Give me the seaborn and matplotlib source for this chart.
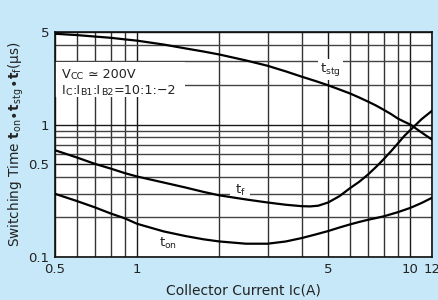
import matplotlib
matplotlib.use("Agg")
import matplotlib.pyplot as plt
from matplotlib.patches import Rectangle
import seaborn as sns
import pandas as pd

# ---- data ----
ic_stg = [0.5, 0.6, 0.7, 0.8, 0.9, 1.0, 1.25, 1.5, 1.75, 2.0, 2.5, 3.0, 3.5, 4.0, 4.5, 5.0,
          5.5, 6.0, 6.5, 7.0, 7.5, 8.0, 8.5, 9.0, 9.5, 10.0, 11.0, 12.0]
t_stg = [4.85, 4.74, 4.62, 4.52, 4.40, 4.30, 4.02, 3.76, 3.56, 3.38, 3.05, 2.78, 2.52, 2.30, 2.13, 1.98,
         1.84, 1.72, 1.60, 1.49, 1.39, 1.29, 1.20, 1.11, 1.05, 1.00, 0.87, 0.77]

ic_f = [0.5, 0.6, 0.7, 0.8, 0.9, 1.0, 1.25, 1.5, 1.75, 2.0, 2.5, 3.0, 3.5, 4.0, 4.3, 4.6, 5.0,
        5.5, 6.0, 6.5, 7.0, 7.5, 8.0, 8.5, 9.0, 9.5, 10.0, 11.0, 12.0]
t_f = [0.64, 0.565, 0.505, 0.465, 0.43, 0.405, 0.365, 0.335, 0.31, 0.292, 0.272, 0.258, 0.248, 0.242, 0.241, 0.244, 0.258,
       0.288, 0.33, 0.37, 0.42, 0.48, 0.55, 0.63, 0.72, 0.82, 0.91, 1.10, 1.27]

ic_on = [0.5, 0.6, 0.7, 0.8, 0.9, 1.0, 1.25, 1.5, 1.75, 2.0, 2.5, 3.0, 3.5, 4.0, 4.5, 5.0,
         5.5, 6.0, 6.5, 7.0, 7.5, 8.0, 9.0, 10.0, 11.0, 12.0]
t_on = [0.30, 0.265, 0.237, 0.213, 0.196, 0.178, 0.156, 0.144, 0.136, 0.131, 0.126, 0.126, 0.131, 0.139, 0.148, 0.157,
        0.167, 0.176, 0.184, 0.191, 0.197, 0.203, 0.218, 0.235, 0.256, 0.28]

x_major = [0.5, 1, 5, 10, 12]
x_major_labels = ["0.5", "1", "5", "10", "12"]
x_minor = [0.6, 0.7, 0.8, 0.9, 2, 3, 4, 6, 7, 8, 9]
y_major = [0.1, 0.5, 1, 5]
y_major_labels = ["0.1", "0.5", "1", "5"]
y_minor = [0.2, 0.3, 0.4, 0.6, 0.7, 0.8, 0.9, 2, 3, 4]

df = pd.concat([
    pd.DataFrame({"Ic": ic_stg, "t": t_stg, "series": "tstg"}),
    pd.DataFrame({"Ic": ic_f, "t": t_f, "series": "tf"}),
    pd.DataFrame({"Ic": ic_on, "t": t_on, "series": "ton"}),
])

BG = "#c6e8f8"
TXT = "#222222"
sns.set_style("white")
plt.rcParams["font.family"] = ["DejaVu Sans"]
plt.rcParams["mathtext.fontset"] = "dejavusans"

fig = plt.figure(figsize=(4.39, 3.0), dpi=100, facecolor=BG)
ax = fig.add_axes([55 / 439, 43 / 300, 377 / 439, 225 / 300])
ax.set_facecolor("white")

sns.lineplot(data=df, x="Ic", y="t", hue="series", palette=["black"] * 3,
             legend=False, ax=ax, linewidth=1.6, zorder=4, sort=False)

ax.set_xscale("log")
ax.set_yscale("log")
ax.set_xlim(0.5, 12)
ax.set_ylim(0.1, 5)
ax.set_xticks(x_major)
ax.set_xticklabels(x_major_labels)
ax.set_xticks(x_minor, minor=True)
ax.set_xticklabels([], minor=True)
ax.set_yticks(y_major)
ax.set_yticklabels(y_major_labels)
ax.set_yticks(y_minor, minor=True)
ax.set_yticklabels([], minor=True)

ax.set_axisbelow(True)
ax.grid(which="major", axis="both", color="#1a1a1a", linewidth=1.0)
ax.grid(which="minor", axis="x", color="#333333", linewidth=1.0)
ax.grid(which="minor", axis="y", color="#444444", linewidth=1.0)

ax.tick_params(which="major", direction="in", length=4, width=1.2, colors=TXT,
               labelsize=9.5, pad=4, labelcolor=TXT)
ax.tick_params(which="minor", length=0)
for s in ax.spines.values():
    s.set_color("#111111")
    s.set_linewidth(1.2)

ax.set_xlabel("Collector Current Ic(A)", fontsize=10, color=TXT, labelpad=6)
ax.set_ylabel(r"Switching Time $\mathbf{t}_{\mathrm{on}}\!\bullet\!\mathbf{t}_{\mathrm{stg}}\!\bullet\!\mathbf{t}_{\mathrm{f}}$(μs)",
              fontsize=9.8, color=TXT, labelpad=2)

# condition box
ax.add_patch(Rectangle((0.0, 0.711), 0.345, 0.156, transform=ax.transAxes,
                       facecolor="white", edgecolor="none", zorder=2))

def chain(pieces, x, y):
    prev = None
    for txt, size in pieces:
        if prev is None:
            prev = ax.text(x, y, txt, transform=ax.transAxes, fontsize=size,
                           va="bottom", ha="left", color=TXT, zorder=3)
        else:
            prev = ax.annotate(txt, xy=(1, 0), xycoords=prev, fontsize=size,
                               va="bottom", ha="left", color=TXT, zorder=3)

BIG, SMALL = 9.2, 6.8
chain([("V", BIG), ("CC", SMALL), (" ≃ 200V", BIG)], 0.018, 0.782)
chain([("I", BIG), ("C", SMALL), (":I", BIG), ("B1", SMALL), (":I", BIG), ("B2", SMALL),
       ("=10:1:−2", BIG)], 0.018, 0.71)

box = dict(facecolor="white", edgecolor="none", pad=1.5)
ax.text(5.1, 2.62, r"t$_{\mathrm{stg}}$", fontsize=9.5, ha="center", va="center",
        color=TXT, bbox=box, zorder=3)
ax.text(2.38, 0.318, r"t$_{\mathrm{f}}$", fontsize=9.5, ha="center", va="center",
        color=TXT, bbox=dict(facecolor="white", edgecolor="none", pad=3), zorder=3)
ax.text(1.30, 0.126, r"t$_{\mathrm{on}}$", fontsize=9.5, ha="center", va="center",
        color=TXT, bbox=box, zorder=3)

fig.savefig("out.png", dpi=100, facecolor=BG)
